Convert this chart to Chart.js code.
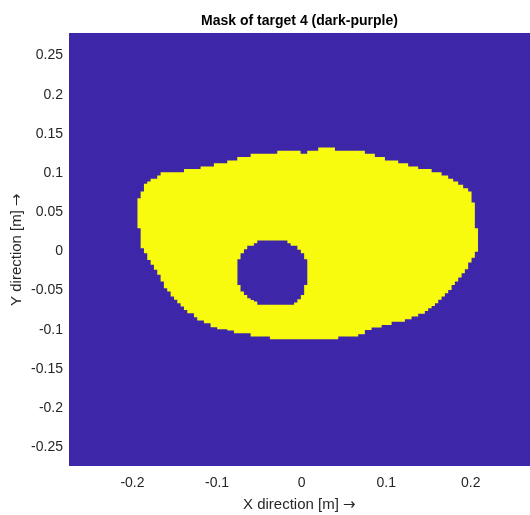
<!DOCTYPE html>
<html>
<head>
<meta charset="utf-8">
<script src="https://cdn.jsdelivr.net/npm/chart.js@4/dist/chart.umd.min.js"></script>
<style>
@font-face { font-family: 'ArrowGlyph'; src: local('DejaVu Sans'); unicode-range: U+2192; }
html,body{margin:0;padding:0;background:#ffffff;}
#wrap{width:530px;height:515px;}
</style>
</head>
<body>
<div id="wrap"><canvas id="c" width="530" height="515"></canvas></div>
<script>
// ---- axis limits and ticks ----
const xLimits = [-0.275, 0.27];
const yLimits = [-0.274, 0.279];
const xTicks = [-0.2, -0.1, 0, 0.1, 0.2];
const xTickLabels = ['-0.2', '-0.1', '0', '0.1', '0.2'];
const yTicks = [-0.25, -0.2, -0.15, -0.1, -0.05, 0, 0.05, 0.1, 0.15, 0.2, 0.25];
const yTickLabels = ['-0.25', '-0.2', '-0.15', '-0.1', '-0.05', '0', '0.05', '0.1', '0.15', '0.2', '0.25'];

// ---- mask: value 1 region (yellow), upper boundary per column start ----
const outerTopX = [-0.1943,-0.1903,-0.1864,-0.1825,-0.1785,-0.1707,-0.1667,-0.1391,-0.1194,-0.1037,-0.0879,-0.0761,-0.0603,-0.0288,-0.0012,0.0066,0.0196,0.0394,0.0748,0.0866,0.0985,0.1142,0.1260,0.1378,0.1537,0.1655,0.1733,0.1792,0.1851,0.1910,0.1969,0.2009,0.2048,0.2087];
const outerTopY = [0.0679,0.0764,0.0862,0.0891,0.0926,0.0968,0.1011,0.1050,0.1083,0.1126,0.1160,0.1203,0.1245,0.1284,0.1245,0.1284,0.1326,0.1284,0.1245,0.1203,0.1160,0.1126,0.1083,0.1050,0.1011,0.0968,0.0926,0.0891,0.0849,0.0807,0.0764,0.0623,0.0296,0.0296];

// lower boundary per column start
const outerBottomX = [-0.1943,-0.1903,-0.1864,-0.1825,-0.1785,-0.1746,-0.1707,-0.1667,-0.1628,-0.1589,-0.1548,-0.1509,-0.1470,-0.1430,-0.1391,-0.1352,-0.1273,-0.1234,-0.1155,-0.1076,-0.0998,-0.0879,-0.0800,-0.0603,-0.0375,0.0433,0.0669,0.0748,0.0827,0.0946,0.1064,0.1221,0.1300,0.1378,0.1457,0.1496,0.1537,0.1576,0.1615,0.1655,0.1694,0.1733,0.1773,0.1812,0.1851,0.1891,0.1930,0.1969,0.2009,0.2048,0.2087];
const outerBottomY = [0.0296,0.0041,-0.0023,-0.0109,-0.0172,-0.0236,-0.0300,-0.0386,-0.0470,-0.0513,-0.0577,-0.0619,-0.0662,-0.0705,-0.0747,-0.0789,-0.0840,-0.0884,-0.0917,-0.0968,-0.0994,-0.1011,-0.1045,-0.1088,-0.1121,-0.1088,-0.1057,-0.1003,-0.0973,-0.0939,-0.0897,-0.0866,-0.0833,-0.0798,-0.0760,-0.0725,-0.0696,-0.0662,-0.0619,-0.0577,-0.0534,-0.0492,-0.0428,-0.0386,-0.0335,-0.0278,-0.0227,-0.0143,-0.0083,-0.0006,-0.0006];

// ---- hole (value 0 inside the region) ----
const holeX = [-0.0761,-0.0722,-0.0682,-0.0643,-0.0603,-0.0564,-0.0524,-0.0168,-0.0129,-0.0089,-0.0050,-0.0009,0.0030,0.0070];
const holeTopY = [-0.0100,-0.0023,0.0028,0.0070,0.0070,0.0105,0.0138,0.0105,0.0070,0.0070,0.0019,-0.0023,-0.0100,-0.0100];
const holeBottomY = [-0.0428,-0.0513,-0.0556,-0.0598,-0.0620,-0.0641,-0.0683,-0.0683,-0.0683,-0.0654,-0.0610,-0.0556,-0.0428,-0.0428];

const PURPLE = '#3e26a8';
const YELLOW = '#f9fb0e';

const pts = (xs, ys) => xs.map((x, i) => ({x: x, y: ys[i]}));
const lineBase = {pointRadius: 0, borderWidth: 0, stepped: true, tension: 0};

function draw() {
  Chart.defaults.font.family = '"ArrowGlyph", "Liberation Sans", Arial, Helvetica, sans-serif';
  new Chart(document.getElementById('c'), {
    type: 'line',
    data: {
      datasets: [
        Object.assign({label: 'holeTop', data: pts(holeX, holeTopY), fill: '+1', backgroundColor: PURPLE}, lineBase),
        Object.assign({label: 'holeBottom', data: pts(holeX, holeBottomY), fill: false}, lineBase),
        Object.assign({label: 'maskTop', data: pts(outerTopX, outerTopY), fill: '+1', backgroundColor: YELLOW}, lineBase),
        Object.assign({label: 'maskBottom', data: pts(outerBottomX, outerBottomY), fill: false}, lineBase),
        Object.assign({label: 'background', data: pts(xLimits, [yLimits[1], yLimits[1]]), fill: 'start', backgroundColor: PURPLE}, lineBase)
      ]
    },
    options: {
      responsive: false,
      animation: false,
      events: [],
      layout: {padding: 0},
      plugins: {
        legend: {display: false},
        tooltip: {enabled: false},
        title: {
          display: true,
          fullSize: false,
          text: 'Mask of target 4 (dark-purple)',
          color: '#000000',
          font: {size: 14, weight: 'bold'},
          padding: {top: 13, bottom: 3}
        }
      },
      scales: {
        x: {
          type: 'linear',
          min: xLimits[0],
          max: xLimits[1],
          grid: {display: false, drawTicks: false},
          border: {display: false},
          afterBuildTicks: (axis) => { axis.ticks = xTicks.map(v => ({value: v})); },
          afterFit: (axis) => { axis.height = 49; },
          ticks: {
            autoSkip: false, maxRotation: 0, padding: 9,
            color: '#262626', font: {size: 14},
            callback: (v, i) => xTickLabels[i]
          },
          title: {display: true, text: 'X direction [m] \u2192', color: '#262626', font: {size: 15}, padding: {top: 0, bottom: 1}}
        },
        y: {
          type: 'linear',
          min: yLimits[0],
          max: yLimits[1],
          grid: {display: false, drawTicks: false},
          border: {display: false},
          afterBuildTicks: (axis) => { axis.ticks = yTicks.map(v => ({value: v})); },
          afterFit: (axis) => { axis.width = 69; },
          ticks: {
            autoSkip: false, padding: 6,
            color: '#262626', font: {size: 14},
            callback: (v, i) => yTickLabels[i]
          },
          title: {display: true, text: 'Y direction [m] \u2192', color: '#262626', font: {size: 15}, padding: {top: 8, bottom: 0}}
        }
      }
    }
  });
}

let done = false;
function once() { if (!done) { done = true; draw(); } }
if (document.fonts && document.fonts.load) {
  document.fonts.load('15px "ArrowGlyph"', '\u2192').then(once, once);
  setTimeout(once, 1500);
} else {
  once();
}
</script>
</body>
</html>
